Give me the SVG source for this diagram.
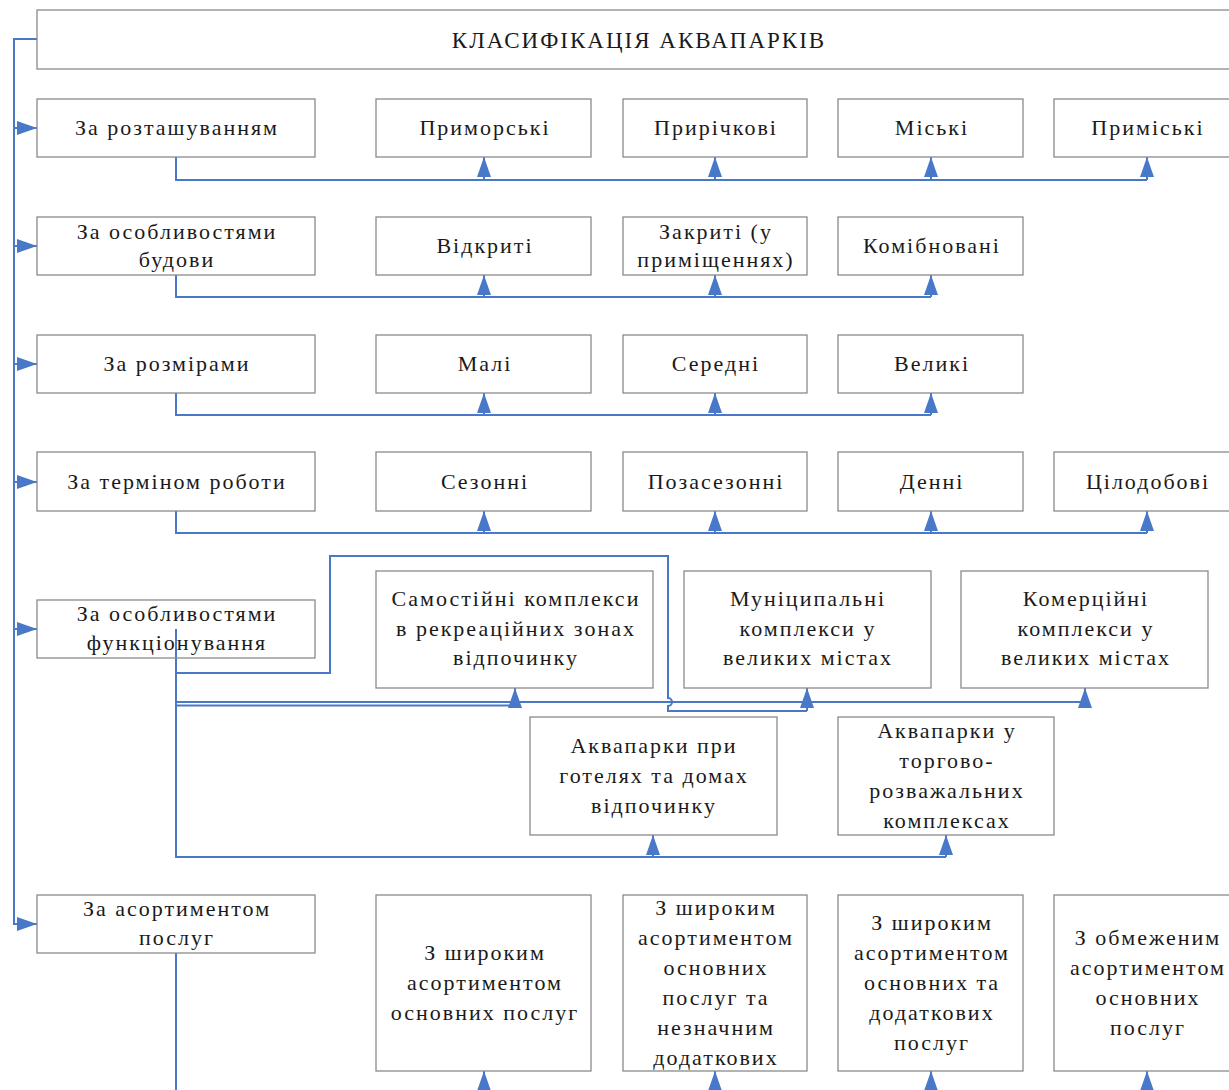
<svg xmlns="http://www.w3.org/2000/svg" width="1229" height="1090" viewBox="0 0 1229 1090">
<style>
.box{fill:#fff;stroke:#8a8a8a;stroke-width:1.3}
.t{font-family:"Liberation Serif","Times New Roman",serif;font-size:22px;letter-spacing:2px;fill:#1a1a1a;text-anchor:middle}
.tt{font-size:23px}
.c{fill:none;stroke:#4a78c8;stroke-width:2}
.a{fill:none;stroke:#4a78c8;stroke-width:2;marker-end:url(#ah)}
</style>
<defs>
<marker id="ah" viewBox="0 0 20 14" refX="20" refY="7" markerWidth="20" markerHeight="14" markerUnits="userSpaceOnUse" orient="auto">
<path d="M0,0 L20,7 L0,14 z" fill="#4a78c8"/>
</marker>
</defs>
<rect width="1229" height="1090" fill="#fff"/>

<g id="connectors">
<path class="c" d="M37,39 H14 V925"/>
<path class="a" d="M14,128 H37"/>
<path class="a" d="M14,246 H37"/>
<path class="a" d="M14,364 H37"/>
<path class="a" d="M14,482 H37"/>
<path class="a" d="M14,629 H37"/>
<path class="a" d="M14,924 H37"/>
<path class="c" d="M176,157 V180 H1147"/>
<path class="a" d="M484,180 V157"/><path class="a" d="M715,180 V157"/><path class="a" d="M931,180 V157"/><path class="a" d="M1147,180 V157"/>
<path class="c" d="M176,275 V297 H931"/>
<path class="a" d="M484,297 V275"/><path class="a" d="M715,297 V275"/><path class="a" d="M931,297 V275"/>
<path class="c" d="M176,393 V415 H931"/>
<path class="a" d="M484,415 V393"/><path class="a" d="M715,415 V393"/><path class="a" d="M931,415 V393"/>
<path class="c" d="M176,511 V533 H1147"/>
<path class="a" d="M484,533 V511"/><path class="a" d="M715,533 V511"/><path class="a" d="M931,533 V511"/><path class="a" d="M1147,533 V511"/>
<path class="c" d="M176,629 V857 H946"/>
<path class="c" d="M176,673 H330 V556 H668 V698 A4,4 0 0 1 668,706 V711 H807"/>
<path class="a" d="M807,711 V688"/>
<path class="c" d="M176,705.5 H515"/>
<path class="a" d="M515,705.5 V688"/>
<path class="c" d="M176,702 H1085"/>
<path class="a" d="M1085,702 V688"/>
<path class="a" d="M653,857 V835"/><path class="a" d="M946,857 V835"/>
<path class="c" d="M176,953 V1095"/>
<path class="a" d="M484,1096 V1071"/><path class="a" d="M715,1096 V1071"/><path class="a" d="M931,1096 V1071"/><path class="a" d="M1147,1096 V1071"/>
</g>

<g id="title"><rect class="box" x="37" y="10" width="1200" height="59"/><text class="t tt" x="639" y="48">КЛАСИФІКАЦІЯ АКВАПАРКІВ</text></g>

<g id="r1-l"><rect class="box" x="37" y="99" width="278" height="58"/><text class="t" x="177" y="135">За розташуванням</text></g>
<g id="r1-1"><rect class="box" x="376" y="99" width="215" height="58"/><text class="t" x="485" y="135">Приморські</text></g>
<g id="r1-2"><rect class="box" x="623" y="99" width="184" height="58"/><text class="t" x="716" y="135">Прирічкові</text></g>
<g id="r1-3"><rect class="box" x="838" y="99" width="185" height="58"/><text class="t" x="932" y="135">Міські</text></g>
<g id="r1-4"><rect class="box" x="1054" y="99" width="186" height="58"/><text class="t" x="1148" y="135">Приміські</text></g>

<g id="r2-l"><rect class="box" x="37" y="217" width="278" height="58"/><text class="t" x="177" y="239">За особливостями</text><text class="t" x="177" y="267">будови</text></g>
<g id="r2-1"><rect class="box" x="376" y="217" width="215" height="58"/><text class="t" x="485" y="253">Відкриті</text></g>
<g id="r2-2"><rect class="box" x="623" y="217" width="184" height="58"/><text class="t" x="716" y="239">Закриті (у</text><text class="t" x="716" y="267">приміщеннях)</text></g>
<g id="r2-3"><rect class="box" x="838" y="217" width="185" height="58"/><text class="t" x="932" y="253">Комібновані</text></g>

<g id="r3-l"><rect class="box" x="37" y="335" width="278" height="58"/><text class="t" x="177" y="371">За розмірами</text></g>
<g id="r3-1"><rect class="box" x="376" y="335" width="215" height="58"/><text class="t" x="485" y="371">Малі</text></g>
<g id="r3-2"><rect class="box" x="623" y="335" width="184" height="58"/><text class="t" x="716" y="371">Середні</text></g>
<g id="r3-3"><rect class="box" x="838" y="335" width="185" height="58"/><text class="t" x="932" y="371">Великі</text></g>

<g id="r4-l"><rect class="box" x="37" y="452" width="278" height="59"/><text class="t" x="177" y="489">За терміном роботи</text></g>
<g id="r4-1"><rect class="box" x="376" y="452" width="215" height="59"/><text class="t" x="485" y="489">Сезонні</text></g>
<g id="r4-2"><rect class="box" x="623" y="452" width="184" height="59"/><text class="t" x="716" y="489">Позасезонні</text></g>
<g id="r4-3"><rect class="box" x="838" y="452" width="185" height="59"/><text class="t" x="932" y="489">Денні</text></g>
<g id="r4-4"><rect class="box" x="1054" y="452" width="186" height="59"/><text class="t" x="1148" y="489">Цілодобові</text></g>

<g id="r5-l"><rect class="box" x="37" y="600" width="278" height="58" fill-opacity="0"/><text class="t" x="177" y="621">За особливостями</text><text class="t" x="177" y="650">функціонування</text></g>
<g id="r5-1"><rect class="box" x="376" y="571" width="277" height="117"/><text class="t" x="516" y="606">Самостійні комплекси</text><text class="t" x="516" y="636">в рекреаційних зонах</text><text class="t" x="516" y="665">відпочинку</text></g>
<g id="r5-2"><rect class="box" x="684" y="571" width="247" height="117"/><text class="t" x="808" y="606">Муніципальні</text><text class="t" x="808" y="636">комплекси у</text><text class="t" x="808" y="665">великих містах</text></g>
<g id="r5-3"><rect class="box" x="961" y="571" width="247" height="117"/><text class="t" x="1086" y="606">Комерційні</text><text class="t" x="1086" y="636">комплекси у</text><text class="t" x="1086" y="665">великих містах</text></g>
<g id="r5-4"><rect class="box" x="530" y="717" width="247" height="118"/><text class="t" x="654" y="753">Аквапарки при</text><text class="t" x="654" y="783">готелях та домах</text><text class="t" x="654" y="813">відпочинку</text></g>
<g id="r5-5"><rect class="box" x="838" y="717" width="216" height="118"/><text class="t" x="947" y="738">Аквапарки у</text><text class="t" x="947" y="768">торгово-</text><text class="t" x="947" y="798">розважальних</text><text class="t" x="947" y="828">комплексах</text></g>

<g id="r6-l"><rect class="box" x="37" y="895" width="278" height="58"/><text class="t" x="177" y="916">За асортиментом</text><text class="t" x="177" y="945">послуг</text></g>
<g id="r6-1"><rect class="box" x="376" y="895" width="215" height="176"/><text class="t" x="485" y="960">З широким</text><text class="t" x="485" y="990">асортиментом</text><text class="t" x="485" y="1020">основних послуг</text></g>
<g id="r6-2"><rect class="box" x="623" y="895" width="184" height="176"/><text class="t" x="716" y="915">З широким</text><text class="t" x="716" y="945">асортиментом</text><text class="t" x="716" y="975">основних</text><text class="t" x="716" y="1005">послуг та</text><text class="t" x="716" y="1035">незначним</text><text class="t" x="716" y="1065">додаткових</text></g>
<g id="r6-3"><rect class="box" x="838" y="895" width="185" height="176"/><text class="t" x="932" y="930">З широким</text><text class="t" x="932" y="960">асортиментом</text><text class="t" x="932" y="990">основних та</text><text class="t" x="932" y="1020">додаткових</text><text class="t" x="932" y="1050">послуг</text></g>
<g id="r6-4"><rect class="box" x="1054" y="895" width="186" height="176"/><text class="t" x="1148" y="945">З обмеженим</text><text class="t" x="1148" y="975">асортиментом</text><text class="t" x="1148" y="1005">основних</text><text class="t" x="1148" y="1035">послуг</text></g>
</svg>
